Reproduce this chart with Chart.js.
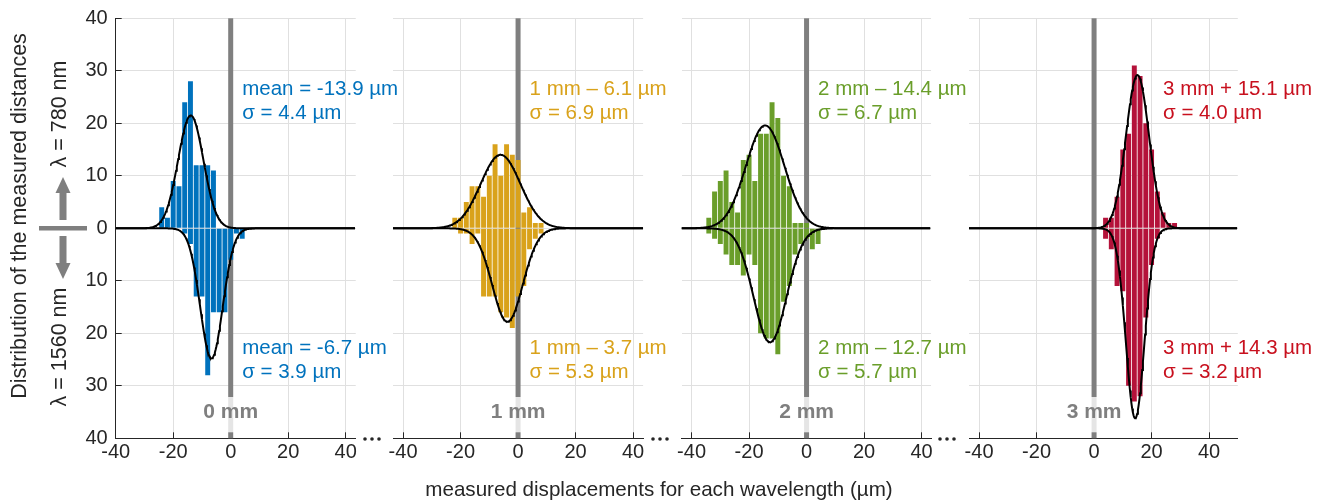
<!DOCTYPE html>
<html>
<head>
<meta charset="utf-8">
<script src="https://cdn.jsdelivr.net/npm/chart.js@4"></script>
<style>
  html, body { margin: 0; padding: 0; background: #fff; }
  #wrap { position: relative; width: 1324px; height: 501px; }
  #wrap canvas { position: absolute; left: 0; top: 0; }
</style>
</head>
<body>
<div id="wrap">
  <canvas id="p0" width="1324" height="501"></canvas>
  <canvas id="p1" width="1324" height="501"></canvas>
  <canvas id="p2" width="1324" height="501"></canvas>
  <canvas id="p3" width="1324" height="501"></canvas>
</div>
<script>
// ---------------- data ----------------
const panelNames = ['0 mm', '1 mm', '2 mm', '3 mm'];

// 2 µm histogram bins, counts above (780 nm) and below (1560 nm) the zero line
const bins0  = [-24, -22, -20, -18, -16, -14, -12, -10, -8, -6, -4, -2, 0, 2, 4];
const up0    = [4, 2, 9, 8, 24, 28, 12, 12, 12, 11, 0, 0, 0, 0, 0];
const down0  = [0, 0, 0, 0, 1, 3, 13, 13, 28, 16, 16, 16, 6, 1, 2];

const bins1  = [-22, -20, -18, -16, -14, -12, -10, -8, -6, -4, -2, 0, 2, 4, 6, 8];
const up1    = [2, 2, 5, 8, 8, 6, 10, 16, 10, 16, 14, 13, 3, 4, 1, 1];
const down1  = [0, 1, 1, 3, 1, 13, 13, 13, 16, 17, 19, 13, 11, 4, 2, 1];

const bins2  = [-34, -32, -30, -28, -26, -24, -22, -20, -18, -16, -14, -12, -10, -8, -6, -4, -2, 0, 2, 4];
const up2    = [2, 7, 9, 11, 5, 3, 13, 14, 9, 18, 18, 24, 21, 10, 8, 1, 1, 1, 0, 0];
const down2  = [1, 2, 3, 5, 7, 7, 9, 5, 7, 20, 21, 21, 24, 14, 11, 5, 3, 2, 4, 3];

const bins3  = [4, 6, 8, 10, 12, 14, 16, 18, 20, 22, 24, 26, 28];
const up3    = [2, 2, 6, 15, 18, 31, 29, 20, 15, 7, 3, 1, 1];
const down3  = [2, 4, 11, 12, 30, 33, 32, 17, 7, 2, 0, 0, 0];

// Gaussian fits (mean and sigma as printed, peak height)
const fitMeanUp    = [-13.9, -6.1, -14.4, 15.1];
const fitSigmaUp   = [4.4, 6.9, 6.7, 4.0];
const fitPeakUp    = [21.5, 14.0, 19.6, 29.2];
const fitMeanDown  = [-6.7, -3.7, -12.7, 14.3];
const fitSigmaDown = [3.9, 5.3, 5.7, 3.2];
const fitPeakDown  = [24.8, 17.8, 21.7, 36.2];

const upperText = [['mean = -13.9 µm', 'σ = 4.4 µm'], ['1 mm – 6.1 µm', 'σ = 6.9 µm'],
                   ['2 mm – 14.4 µm', 'σ = 6.7 µm'], ['3 mm + 15.1 µm', 'σ = 4.0 µm']];
const lowerText = [['mean = -6.7 µm', 'σ = 3.9 µm'], ['1 mm – 3.7 µm', 'σ = 5.3 µm'],
                   ['2 mm – 12.7 µm', 'σ = 5.7 µm'], ['3 mm + 14.3 µm', 'σ = 3.2 µm']];

const bins = [bins0, bins1, bins2, bins3];
const upCounts = [up0, up1, up2, up3];
const downCounts = [down0, down1, down2, down3];

// ---------------- look & placement ----------------
const FONT = '"Liberation Sans", Arial, sans-serif';
const INK = '#262626';
const GRID = '#e0e0e0';
const GUIDE = '#7f7f7f';
const barColors  = ['#0072BD', '#D9A21B', '#6A9E2A', '#B4123A'];
const textColors = ['#0072BD', '#D9A21B', '#6A9E2A', '#C8101E'];

const xMin = [-40, -43.5, -43.5, -43.5];
const xMax = [43.5, 43.5, 43.3, 50];
const areaLeft = [115.7, 393, 681.5, 969];
const areaTop = 18.3, areaBottom = 438.3;
const PX_PER_UM = 2.875;
const textAt = [4, 4, 4, 24];   // µm where the fit annotations start

Chart.defaults.font.family = FONT;
Chart.defaults.font.size = 20;
Chart.defaults.color = INK;

function fitCurve(mean, sigma, peak, sign, lo, hi) {
  const pts = [];
  for (let v = lo; v <= hi + 1e-9; v += 0.25) {
    pts.push({x: v, y: sign * peak * Math.exp(-((v - mean) ** 2) / (2 * sigma * sigma))});
  }
  return pts;
}

// gray guide at 0, label box, annotations
const panelDeco = {
  id: 'panelDeco',
  beforeDatasetsDraw(chart, args, o) {
    const {ctx, chartArea} = chart;
    const x0 = chart.scales.x.getPixelForValue(0);
    ctx.save();
    ctx.fillStyle = GUIDE;
    ctx.fillRect(x0 - 2.5, chartArea.top, 5, chartArea.bottom - chartArea.top);
    ctx.restore();
  },
  afterDatasetsDraw(chart, args, o) {
    const {ctx, chartArea} = chart;
    const xs = chart.scales.x, ys = chart.scales.y;
    const x0 = xs.getPixelForValue(0);
    ctx.save();
    ctx.font = 'bold 21px ' + FONT;
    const w = ctx.measureText(o.name).width;
    ctx.fillStyle = 'rgba(255,255,255,0.8)';
    ctx.fillRect(x0 - w / 2 - 3, 397, w + 6, chartArea.bottom - 6 - 397);
    ctx.fillStyle = GUIDE;
    ctx.textAlign = 'center';
    ctx.textBaseline = 'middle';
    ctx.fillText(o.name, x0, 412);

    ctx.font = '20.5px ' + FONT;
    ctx.fillStyle = o.color;
    ctx.textAlign = 'left';
    const tx = xs.getPixelForValue(o.at);
    ctx.fillText(o.upper[0], tx, ys.getPixelForValue(26.5));
    ctx.fillText(o.upper[1], tx, ys.getPixelForValue(21.9));
    ctx.fillText(o.lower[0], tx, ys.getPixelForValue(-22.8));
    ctx.fillText(o.lower[1], tx, ys.getPixelForValue(-27.4));
    ctx.restore();
  }
};

function rotText(ctx, s, x, y) {
  ctx.save();
  ctx.translate(x, y);
  ctx.rotate(-Math.PI / 2);
  ctx.fillText(s, 0, 0);
  ctx.restore();
}

// shared figure furniture: titles, wavelength arrows, "..." breaks
const figureDeco = {
  id: 'figureDeco',
  afterDraw(chart) {
    const ctx = chart.ctx;
    ctx.save();
    ctx.fillStyle = INK;
    ctx.textAlign = 'center';
    ctx.textBaseline = 'middle';
    ctx.font = '20.6px ' + FONT;
    ctx.fillText('measured displacements for each wavelength (µm)', 659, 490);
    ctx.font = '21.5px ' + FONT;
    rotText(ctx, 'Distribution of the measured distances', 20, 216);
    rotText(ctx, 'λ = 780 nm', 60, 114);
    rotText(ctx, 'λ = 1560 nm', 60, 347);

    ctx.fillStyle = GUIDE;
    const ax = 63;
    ctx.beginPath();
    ctx.moveTo(ax, 177); ctx.lineTo(ax + 7.5, 193); ctx.lineTo(ax + 3.5, 193);
    ctx.lineTo(ax + 3.5, 220); ctx.lineTo(ax - 3.5, 220); ctx.lineTo(ax - 3.5, 193);
    ctx.lineTo(ax - 7.5, 193); ctx.closePath(); ctx.fill();
    ctx.beginPath();
    ctx.moveTo(ax, 279); ctx.lineTo(ax + 7.5, 263); ctx.lineTo(ax + 3.5, 263);
    ctx.lineTo(ax + 3.5, 236); ctx.lineTo(ax - 3.5, 236); ctx.lineTo(ax - 3.5, 263);
    ctx.lineTo(ax - 7.5, 263); ctx.closePath(); ctx.fill();
    ctx.fillRect(39, 226, 48, 4.5);

    ctx.fillStyle = INK;
    [372, 660, 947].forEach(cx => {
      for (let k = -1; k <= 1; k++) {
        ctx.beginPath();
        ctx.arc(cx + k * 7, 439, 1.8, 0, Math.PI * 2);
        ctx.fill();
      }
    });
    ctx.restore();
  }
};

function makePanel(i) {
  const lo = xMin[i], hi = xMax[i];
  const b = bins[i];
  const left = areaLeft[i];
  const right = left + (hi - lo) * PX_PER_UM;
  const bar = (vals, sign) => ({
    type: 'bar',
    data: b.map((v, k) => ({x: v, y: sign * vals[k]})),
    backgroundColor: barColors[i],
    borderWidth: 0,
    grouped: false,
    barPercentage: 1,
    categoryPercentage: 0.86,
    order: 1
  });
  const curve = (m, s, p, sign) => ({
    type: 'line',
    data: fitCurve(m, s, p, sign, lo, hi),
    borderColor: '#000',
    borderWidth: 2,
    pointRadius: 0,
    fill: false,
    order: 0
  });
  const chart = new Chart(document.getElementById('p' + i), {
    type: 'bar',
    data: {
      datasets: [
        curve(fitMeanUp[i], fitSigmaUp[i], fitPeakUp[i], 1),
        curve(fitMeanDown[i], fitSigmaDown[i], fitPeakDown[i], -1),
        bar(upCounts[i], 1),
        bar(downCounts[i], -1)
      ]
    },
    options: {
      responsive: false,
      animation: false,
      events: [],
      layout: {autoPadding: false,
               padding: {left: left - (i === 0 ? 36 : 0), right: 1324 - right, top: areaTop, bottom: 501 - areaBottom - 26}},
      plugins: {
        legend: {display: false},
        tooltip: {enabled: false},
        panelDeco: {name: panelNames[i], color: textColors[i], at: textAt[i],
                    upper: upperText[i], lower: lowerText[i]}
      },
      scales: {
        x: {
          type: 'linear', min: lo, max: hi, offset: false,
          grid: {color: GRID, offset: false, drawTicks: true, tickLength: -6, tickColor: INK, tickWidth: 1},
          border: {display: true, color: INK, width: 1},
          ticks: {stepSize: 20, includeBounds: false, maxRotation: 0, autoSkip: false, padding: 8, color: INK}
        },
        y: {
          type: 'linear', min: -40, max: 40,
          grid: {color: GRID, drawTicks: i === 0, tickLength: -6, tickColor: INK, tickWidth: 1},
          border: {display: i === 0, color: INK, width: 1},
          ticks: {display: i === 0, stepSize: 10, padding: 14, autoSkip: false, color: INK,
                  callback: v => String(Math.abs(v))},
          afterFit: s => { s.paddingTop = 0; s.paddingBottom = 0; }
        }
      }
    },
    plugins: i === 0 ? [panelDeco, figureDeco] : [panelDeco]
  });

  // nudge padding so the plot area lands on the reference frame
  for (let k = 0; k < 3; k++) {
    const a = chart.chartArea;
    const p = chart.config.options.layout.padding;
    chart.config.options.layout.padding = {
      left: p.left + (left - a.left),
      right: p.right + (a.right - right),
      top: p.top + (areaTop - a.top),
      bottom: p.bottom + (a.bottom - areaBottom)
    };
    chart.update('none');
  }
  return chart;
}

const charts = [0, 1, 2, 3].map(makePanel);
</script>
</body>
</html>
